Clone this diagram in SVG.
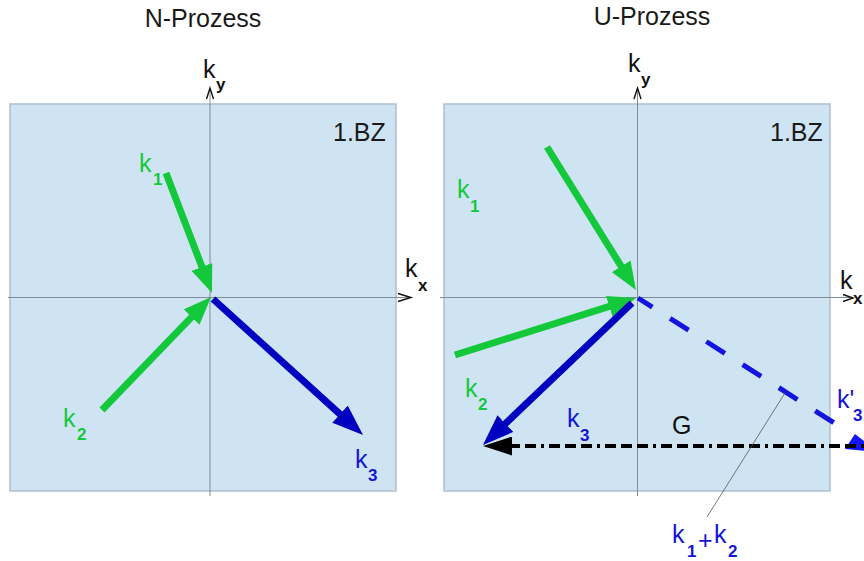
<svg xmlns="http://www.w3.org/2000/svg" width="864" height="561" viewBox="0 0 864 561">
<style>
text{font-family:"Liberation Sans",Arial,sans-serif;}
.title{font-size:25px;fill:#1a1a1a;text-anchor:middle;}
.bz{font-size:25px;fill:#1a1a1a;}
.k{font-size:25px;}
.sub{font-size:17px;font-weight:bold;}
.ax{fill:#111;}
.gr{fill:#14c83c;}
.bl{fill:#1414d2;}
.zone{fill:#cfe4f2;stroke:#aebfcc;stroke-width:1.5;}
.axis{stroke:#7f8b96;stroke-width:1;fill:none;}
.chev{stroke:#111;stroke-width:1.4;fill:none;}
.garr{stroke:#14c83c;stroke-width:7;fill:none;marker-end:url(#hg);}
.barr{stroke:#0000c0;stroke-width:7;fill:none;marker-end:url(#hb);}
</style>
<defs>
<marker id="hg" markerUnits="userSpaceOnUse" markerWidth="28" markerHeight="22" viewBox="0 0 28 22" refX="1" refY="11" orient="auto">
<path d="M0,0 L28,11 L0,22 z" fill="#14c83c"/>
</marker>
<marker id="hb" markerUnits="userSpaceOnUse" markerWidth="31" markerHeight="23" viewBox="0 0 31 23" refX="1" refY="11.5" orient="auto">
<path d="M0,0 L31,11.5 L0,23 z" fill="#0000c0"/>
</marker>
<marker id="hk" markerUnits="userSpaceOnUse" markerWidth="29" markerHeight="19" viewBox="0 0 29 19" refX="1" refY="9.5" orient="auto">
<path d="M0,0 L29,9.5 L0,19 z" fill="#000"/>
</marker>
</defs>
<rect width="864" height="561" fill="#fff"/>

<!-- Left panel: N-Prozess -->
<g id="n-panel">
<text class="title" x="203" y="27">N-Prozess</text>
<rect class="zone" x="10" y="104" width="386" height="387"/>
<text class="bz" x="333" y="141">1.BZ</text>
</g>
<g id="n-axes">
<line class="axis" x1="210" y1="88" x2="210" y2="496"/>
<line class="axis" x1="8" y1="297.5" x2="410" y2="297.5"/>
<polyline class="chev" points="206.5,99 210,88 213.5,99"/>
<polyline class="chev" points="398,293.5 411,297.5 398,301.5"/>
<text class="ax k" x="203" y="78">k<tspan class="sub" x="216" y="90">y</tspan></text>
<text class="ax k" x="405" y="277">k<tspan class="sub" x="418" y="291">x</tspan></text>
</g>
<g id="n-labels">
<text class="gr k" x="139" y="172">k<tspan class="sub" x="153" y="185">1</tspan></text>
<text class="gr k" x="63" y="427">k<tspan class="sub" x="77" y="440">2</tspan></text>
<text class="bl k" x="355" y="468">k<tspan class="sub" x="368" y="481">3</tspan></text>
</g>

<!-- Right panel: U-Prozess -->
<g id="u-panel">
<text class="title" x="652" y="25">U-Prozess</text>
<rect class="zone" x="444" y="104" width="386" height="387"/>
<text class="bz" x="770" y="141">1.BZ</text>
</g>
<g id="u-axes">
<line class="axis" x1="637.5" y1="88" x2="637.5" y2="496"/>
<line class="axis" x1="440" y1="297.5" x2="853" y2="297.5"/>
<polyline class="chev" points="634,99 637.5,88 641,99"/>
<polyline class="chev" points="843,294.5 853,298 843,301.5"/>
<text class="ax k" x="628" y="72">k<tspan class="sub" x="641" y="85">y</tspan></text>
<text class="ax k" x="840" y="289">k<tspan class="sub" x="853" y="304">x</tspan></text>
</g>
<g id="u-labels">
<text class="gr k" x="457" y="198">k<tspan class="sub" x="470" y="212">1</tspan></text>
<text class="gr k" x="465" y="397">k<tspan class="sub" x="478" y="410">2</tspan></text>
<text class="bl k" x="567" y="427">k<tspan class="sub" x="580" y="441">3</tspan></text>
<text class="ax" x="672" y="434" font-size="25">G</text>
<text class="bl k" x="837" y="408">k'<tspan class="sub" x="853" y="421">3</tspan></text>
<text class="bl k" x="672" y="543">k<tspan class="sub" x="687" y="557">1</tspan><tspan x="698" y="549">+</tspan><tspan x="714" y="543">k</tspan><tspan class="sub" x="728" y="557">2</tspan></text>
</g>

<g id="connectors">
<!-- left -->
<line class="garr" x1="166" y1="173" x2="202.3" y2="267.8"/>
<line class="garr" x1="102" y1="410" x2="192.3" y2="316.4"/>
<line class="barr" x1="213" y1="299" x2="340.8" y2="414.8"/>
<!-- right -->
<line class="garr" x1="547" y1="147" x2="621.7" y2="267.1"/>
<line class="garr" x1="455" y1="355" x2="610.2" y2="306.1"/>
<line class="barr" x1="632" y1="303" x2="504.7" y2="424.3"/>
<line x1="638" y1="298" x2="850" y2="433" stroke="#1414e0" stroke-width="5" stroke-dasharray="22 21" stroke-dashoffset="5"/>
<polygon points="845,449 855,434 878,452" fill="#1414ff"/>
<line x1="872" y1="446" x2="511" y2="446" stroke="#000" stroke-width="4" stroke-dasharray="11 5 11 5 11 5 3 5" marker-end="url(#hk)"/>
<line x1="707" y1="517" x2="785" y2="393" stroke="#555" stroke-width="0.8"/>
</g>
</svg>
